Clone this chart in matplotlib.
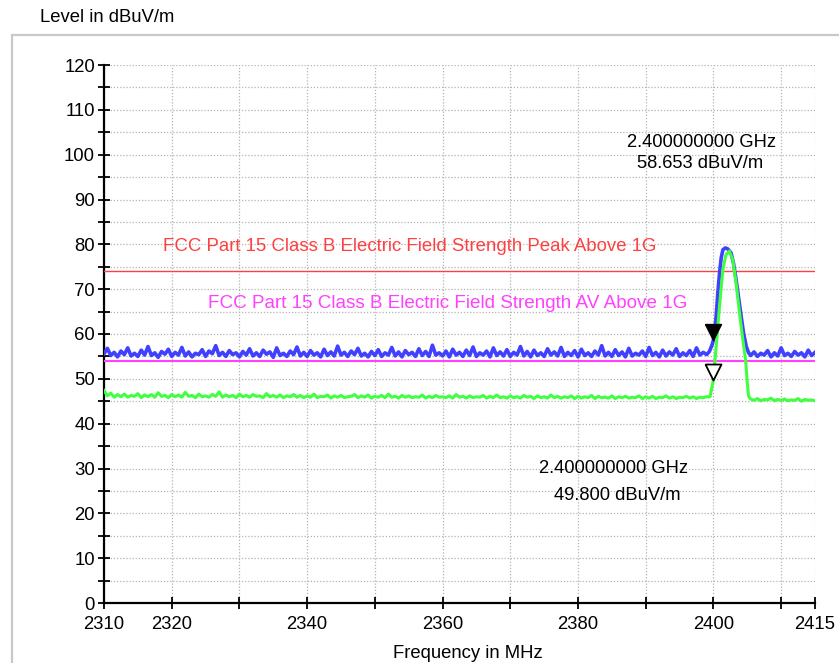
import numpy as np
import matplotlib
matplotlib.use("Agg")
import matplotlib.pyplot as plt
from matplotlib.patches import Rectangle

plt.rcParams["font.family"] = ["Liberation Sans", "DejaVu Sans"]

# limit lines
peak_limit = 74
av_limit = 54
peak_limit_label = "FCC Part 15 Class B Electric Field Strength Peak Above 1G"
av_limit_label = "FCC Part 15 Class B Electric Field Strength AV Above 1G"

# markers
marker_freq = 2400.0
marker_peak = 58.653
marker_av = 49.800

# peak trace (blue), noise floor 2310..2399 every 0.5 MHz
blue_low = [
    55.6, 56.8, 55.2, 55.9, 54.9, 56.2, 55.4, 56.9, 55.1, 55.7, 55.0, 56.4, 55.3, 57.2, 55.2, 55.8, 54.8, 56.1, 55.5, 56.6,
    55.0, 55.9, 55.3, 57.0, 55.1, 56.0, 54.9, 55.7, 55.4, 56.5, 55.0, 56.2, 55.6, 57.4, 55.2, 55.9, 55.0, 56.3, 55.4, 55.8,
    54.9, 56.1, 55.3, 56.7, 55.1, 55.8, 55.0, 56.4, 55.5, 56.0, 54.8, 56.9, 55.2, 55.7, 55.0, 56.2, 55.4, 57.1, 55.1, 55.9,
    55.0, 56.3, 55.3, 55.8, 54.9, 56.6, 55.2, 56.0, 55.1, 57.3, 55.3, 55.9, 55.0, 56.2, 55.4, 56.8, 55.1, 55.7, 54.9, 56.1,
    55.2, 56.5, 55.0, 55.8, 55.3, 57.0, 55.1, 56.0, 54.9, 56.3, 55.4, 55.9, 55.0, 56.7, 55.2, 56.1, 55.0, 57.5, 55.3, 55.8,
    55.1, 56.2, 54.9, 56.6, 55.3, 55.9, 55.0, 56.4, 55.2, 57.1, 55.0, 55.8, 55.3, 56.2, 54.9, 56.9, 55.2, 56.0, 55.1, 56.5,
    55.0, 55.9, 55.3, 57.2, 55.1, 56.1, 54.9, 56.4, 55.2, 55.8, 55.0, 56.7, 55.3, 56.0, 55.1, 57.0, 55.0, 55.9, 55.2, 56.3,
    54.9, 56.6, 55.2, 55.8, 55.0, 56.2, 55.3, 57.4, 55.1, 55.9, 55.0, 56.5, 55.2, 56.0, 54.9, 56.8, 55.1, 55.7, 55.3, 56.2,
    55.0, 57.0, 55.2, 55.9, 54.9, 56.4, 55.1, 56.0, 55.3, 56.7, 55.0, 55.8, 55.2, 56.3, 55.0, 56.9, 55.3, 55.9, 55.4,
]
blue_peak_f = [2399.4, 2399.8, 2400.0, 2400.15, 2400.4, 2400.65, 2400.9, 2401.15, 2401.4, 2401.75, 2402.1,
               2402.6, 2402.95, 2403.35, 2403.75, 2404.1, 2404.45, 2404.85, 2405.2]
blue_peak_v = [56.1, 57.6, 58.65, 60.2, 63.9, 69.2, 73.6, 77.0, 78.8, 79.2, 79.0,
               78.1, 75.9, 72.1, 67.7, 63.9, 60.2, 57.2, 55.8]
# noise floor 2405.5..2415 every 0.5 MHz
blue_high = [55.2, 56.0, 55.0, 55.7, 55.3, 56.3, 54.9, 55.8, 55.1, 56.9,
             55.2, 55.7, 55.0, 56.1, 55.3, 55.8, 54.9, 56.4, 55.2, 55.9]

# average trace (green)
green_low = [
    47.4, 46.2, 46.8, 45.9, 46.5, 46.0, 46.6, 45.9, 46.3, 46.1, 46.7, 45.8, 46.4, 46.0, 46.5, 45.9, 46.9, 46.1, 46.3, 45.8,
    46.5, 46.0, 46.4, 45.9, 47.0, 46.1, 46.3, 45.8, 46.6, 46.0, 46.2, 45.9, 46.5, 46.1, 47.1, 45.9, 46.4, 46.0, 46.3, 45.8,
    46.6, 46.0, 46.3, 45.9, 46.5, 46.1, 46.2, 45.8, 46.7, 46.0, 46.3, 45.9, 46.4, 45.8, 46.2, 46.0, 46.5, 45.9, 46.3, 45.8,
    46.2, 45.9, 46.6, 45.8, 46.1, 46.0, 46.4, 45.7, 46.2, 45.9, 46.3, 45.8, 46.0, 46.1, 46.5, 45.8, 46.2, 45.9, 46.4, 45.7,
    46.1, 45.9, 46.3, 45.8, 46.6, 45.9, 46.1, 45.7, 46.3, 45.9, 46.2, 45.8, 46.0, 45.9, 46.4, 45.7, 46.1, 45.8, 46.3, 45.9,
    46.0, 45.8, 46.2, 45.7, 46.5, 45.9, 46.1, 45.7, 46.2, 45.8, 46.0, 45.9, 46.3, 45.7, 46.1, 45.8, 46.4, 45.8, 46.0, 45.7,
    46.2, 45.8, 46.0, 45.7, 46.3, 45.9, 46.1, 45.6, 46.2, 45.8, 46.0, 45.7, 46.4, 45.8, 46.1, 45.7, 46.0, 45.8, 46.2, 45.6,
    46.1, 45.7, 46.0, 45.8, 46.3, 45.6, 46.1, 45.8, 45.9, 45.7, 46.2, 45.6, 46.0, 45.8, 46.1, 45.7, 45.9, 45.8, 46.2, 45.6,
    46.0, 45.7, 46.1, 45.6, 45.9, 45.8, 46.2, 45.7, 46.0, 45.6, 45.9, 45.8, 46.1, 45.7, 46.0, 45.6, 45.9, 45.8, 46.0,
]
green_peak_f = [2399.5, 2399.8, 2400.0, 2400.4, 2400.9, 2401.4, 2401.85, 2402.35, 2402.85, 2403.35,
                2403.85, 2404.35, 2404.75, 2405.0, 2405.2]
green_peak_v = [46.0, 48.3, 49.8, 57.2, 66.2, 74.4, 77.7, 78.5, 76.6, 71.4,
                64.7, 58.7, 54.3, 49.1, 46.1]
green_high = [45.5, 45.2, 45.6, 45.1, 45.4, 45.3, 45.7, 45.1, 45.4, 45.2,
              45.5, 45.1, 45.3, 45.2, 45.6, 45.0, 45.4, 45.2, 45.3, 45.1]

x_ticks = [2310, 2320, 2330, 2340, 2350, 2360, 2370, 2380, 2390, 2400, 2410, 2415]
x_labels = ["2310", "2320", "", "2340", "", "2360", "", "2380", "", "2400", "", "2415"]

f_low = np.arange(2310, 2399.01, 0.5)
f_high = np.arange(2405.5, 2415.01, 0.5)

blue_f = np.concatenate([f_low, blue_peak_f, f_high])
blue_v = np.concatenate([blue_low, blue_peak_v, blue_high])
green_f = np.concatenate([f_low, green_peak_f, f_high])
green_v = np.concatenate([green_low, green_peak_v, green_high])

fig = plt.figure(figsize=(8.39, 6.63), dpi=100)
ax = fig.add_axes([104 / 839, 60 / 663, 711 / 839, 538 / 663])

# outer frame
fig.add_artist(Rectangle((12 / 839, -0.2), 1.2, 0.2 + 628 / 663, transform=fig.transFigure,
                         fill=False, edgecolor="#c8c8c8", linewidth=1.6))

ax.axhline(peak_limit, color="#ff4040", linewidth=1.0, zorder=3)
ax.axhline(av_limit, color="#ff40ff", linewidth=1.5, zorder=3)

ax.plot(blue_f, blue_v, color="#4040ff", linewidth=2.6, zorder=4)
ax.plot(green_f, green_v, color="#40ff40", linewidth=2.2, zorder=5)

# marker triangles with tip on the point
tri = [(-0.5, 1.0), (0.5, 1.0), (0.0, 0.0), (-0.5, 1.0)]
ax.plot([marker_freq], [marker_peak], marker=tri, markersize=23, color="black",
        markerfacecolor="black", linestyle="none", zorder=6)
ax.plot([marker_freq], [marker_av], marker=tri, markersize=23, markeredgecolor="black",
        markerfacecolor="white", markeredgewidth=1.3, linestyle="none", zorder=6)

ax.text(2318.7, 79.5, peak_limit_label, color="#ff4040", fontsize=13.4, va="center", ha="left")
ax.text(2325.4, 66.8, av_limit_label, color="#ff40ff", fontsize=13.6, va="center", ha="left")

ax.text(2398.2, 102.7, "2.400000000 GHz", fontsize=13.2, ha="center", va="center")
ax.text(2398.0, 98.1, "58.653 dBuV/m", fontsize=13.2, ha="center", va="center")
ax.text(2385.2, 30.0, "2.400000000 GHz", fontsize=13.2, ha="center", va="center")
ax.text(2385.8, 24.0, "49.800 dBuV/m", fontsize=13.2, ha="center", va="center")

ax.set_xlim(2310, 2415)
ax.set_ylim(0, 120)
ax.set_xticks(x_ticks)
ax.set_xticklabels(x_labels)
ax.set_yticks(np.arange(0, 121, 10))
ax.set_yticks(np.arange(5, 120, 10), minor=True)
ax.tick_params(axis="both", which="both", direction="inout", length=9, width=1.3,
               labelsize=13.3, pad=2)
ax.tick_params(axis="x", pad=5)

ax.grid(True, which="both", axis="y", color="#b4b4b4", linestyle=(0, (1, 1.5)), linewidth=0.9)
ax.grid(True, which="major", axis="x", color="#b4b4b4", linestyle=(0, (1, 1.5)), linewidth=0.9)
ax.set_axisbelow(True)

for s in ["top", "right"]:
    ax.spines[s].set_visible(False)
for s in ["left", "bottom"]:
    ax.spines[s].set_linewidth(1.6)

fig.text(40 / 839, 1 - 18 / 663, "Level in dBuV/m", fontsize=13.3, ha="left", va="center")
fig.text(468 / 839, 1 - 654 / 663, "Frequency in MHz", fontsize=13.3, ha="center", va="center")

fig.savefig("out.png", dpi=100)
